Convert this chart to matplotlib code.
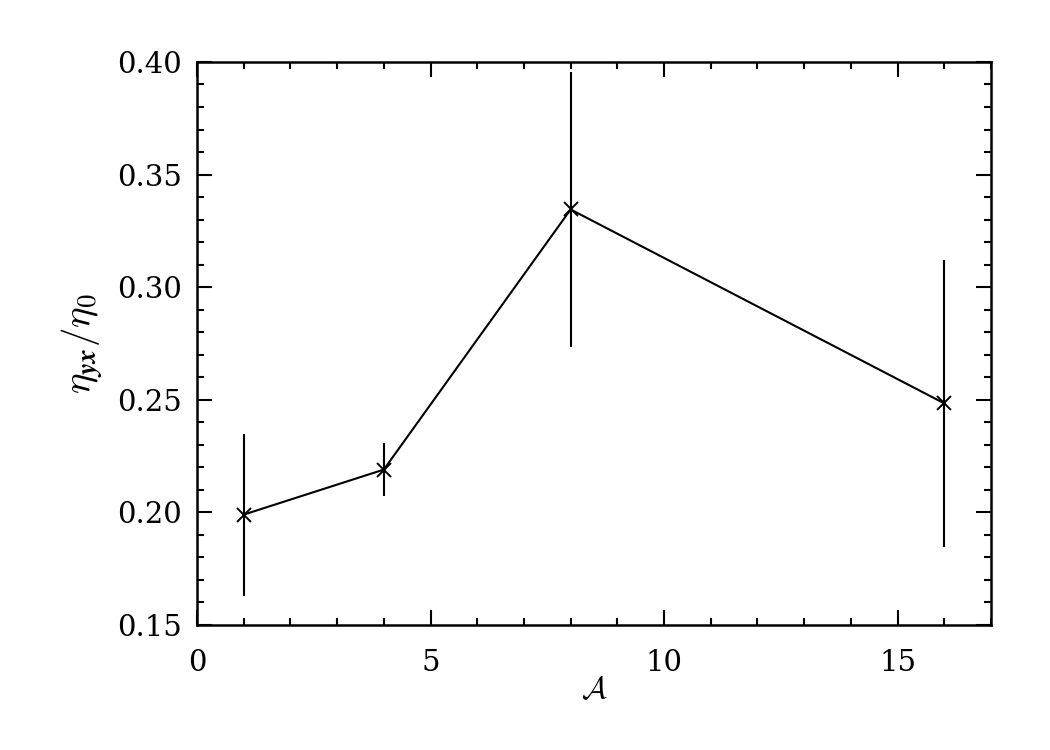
import numpy as np
import matplotlib
matplotlib.use("Agg")
import matplotlib.pyplot as plt
from matplotlib.ticker import MultipleLocator

# Data
aspect = [1, 4, 8, 16]
eta_ratio = [0.199, 0.219, 0.3345, 0.2484]
eta_err = [0.036, 0.0116, 0.061, 0.0637]

plt.rcParams["font.family"] = "DejaVu Serif"
plt.rcParams["mathtext.fontset"] = "cm"

fig = plt.figure(figsize=(10.5, 7.5), dpi=100)
ax = fig.add_axes([0.1876, 0.1667, 0.7562, 0.7507])

ax.plot(aspect, eta_ratio, color="black", linewidth=1.5,
        marker="x", markersize=10, markeredgewidth=1.4)
ax.errorbar(aspect, eta_ratio, yerr=eta_err, fmt="none",
            ecolor="black", elinewidth=1.5, capsize=0)

ax.set_xlim(0, 17)
ax.set_ylim(0.15, 0.40)
ax.xaxis.set_major_locator(MultipleLocator(5))
ax.xaxis.set_minor_locator(MultipleLocator(1))
ax.yaxis.set_major_locator(MultipleLocator(0.05))
ax.yaxis.set_minor_locator(MultipleLocator(0.01))
ax.yaxis.set_major_formatter(plt.FormatStrFormatter("%.2f"))

ax.tick_params(which="both", direction="in", top=True, right=True,
               width=1.5, labelsize=21)
ax.tick_params(axis="y", pad=11)
ax.tick_params(axis="x", pad=17)
ax.tick_params(which="major", length=11)
ax.tick_params(which="minor", length=5)
for s in ax.spines.values():
    s.set_linewidth(1.8)

ax.set_xlabel(r"$\mathcal{A}$", fontsize=22, labelpad=-2)
ax.set_ylabel(r"$\eta_{\boldsymbol{yx}}/\eta_0$", fontsize=28, labelpad=8)

fig.savefig("out.png", dpi=100)
